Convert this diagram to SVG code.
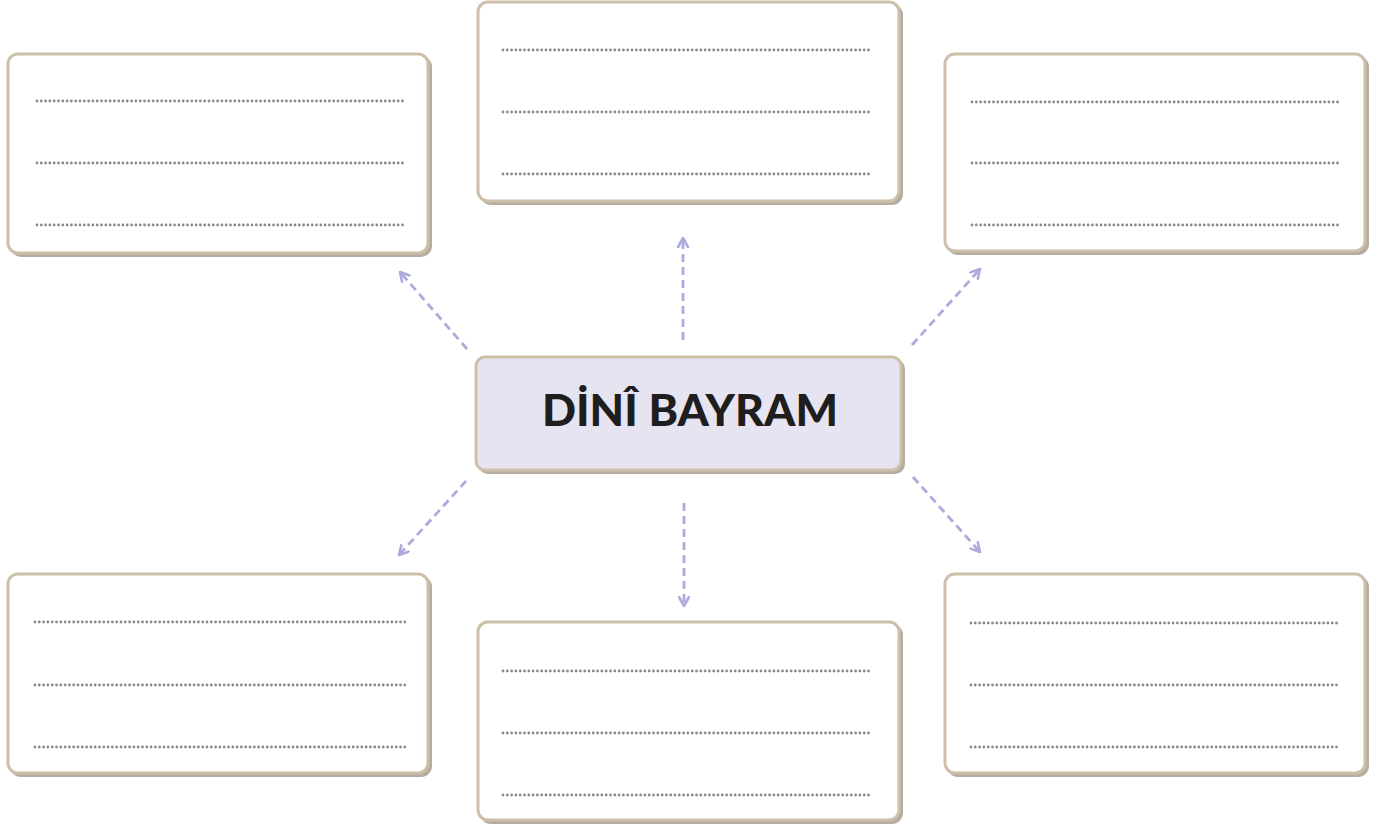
<svg xmlns="http://www.w3.org/2000/svg" width="1383" height="827" viewBox="0 0 1383 827">
<style>
.sh{fill:#a99d90;opacity:0.85}
.bx{fill:#ffffff;stroke:#cdbfa8;stroke-width:3}
.cbx{fill:#e7e4f1;stroke:#cdbfa8;stroke-width:3}
.dl{stroke:#8a8a8a;stroke-width:2.8;stroke-linecap:round;stroke-dasharray:0 4.3;fill:none}
.ar{stroke:#adabdc;stroke-width:2.8;stroke-dasharray:8 5;fill:none;marker-end:url(#ah)}
.t{font-family:Lato,'DejaVu Sans',sans-serif;font-weight:900;font-size:44px;fill:#1e1e1e}
</style>
<defs>
<marker id="ah" viewBox="0 0 12 12" refX="10" refY="6" markerWidth="12" markerHeight="12" markerUnits="userSpaceOnUse" orient="auto">
<path d="M1,1 L10,6 L1,11" fill="none" stroke="#adabdc" stroke-width="2.6" stroke-linecap="round" stroke-linejoin="round"/>
</marker>
</defs>
<rect width="1383" height="827" fill="#ffffff"/>
<g id="connectors">
<line class="ar" x1="467" y1="349" x2="400" y2="272"/>
<line class="ar" x1="683" y1="340" x2="683" y2="238"/>
<line class="ar" x1="912" y1="345" x2="980" y2="269"/>
<line class="ar" x1="466" y1="481" x2="399" y2="555"/>
<line class="ar" x1="684" y1="503" x2="684" y2="606"/>
<line class="ar" x1="913" y1="477" x2="980" y2="552"/>
</g>
<g id="center">
<rect class="sh" x="478" y="359" width="427" height="115" rx="10"/>
<rect class="cbx" x="476" y="357" width="425" height="113" rx="9"/>
<text class="t" x="690" y="426" text-anchor="middle" textLength="296" lengthAdjust="spacingAndGlyphs">DİNÎ BAYRAM</text>
</g>
<g id="box-top-left">
<rect class="sh" x="10" y="56" width="422" height="201" rx="11"/>
<rect class="bx" x="8" y="54" width="420" height="199" rx="10"/>
<line class="dl" x1="37" y1="101" x2="406" y2="101"/>
<line class="dl" x1="37" y1="163" x2="406" y2="163"/>
<line class="dl" x1="37" y1="225" x2="406" y2="225"/>
</g>
<g id="box-top-middle">
<rect class="sh" x="480" y="4" width="423" height="201" rx="11"/>
<rect class="bx" x="478" y="2" width="421" height="199" rx="10"/>
<line class="dl" x1="503" y1="50" x2="871" y2="50"/>
<line class="dl" x1="503" y1="112" x2="871" y2="112"/>
<line class="dl" x1="503" y1="174" x2="871" y2="174"/>
</g>
<g id="box-top-right">
<rect class="sh" x="947" y="56" width="422" height="199" rx="11"/>
<rect class="bx" x="945" y="54" width="420" height="197" rx="10"/>
<line class="dl" x1="972" y1="102" x2="1341" y2="102"/>
<line class="dl" x1="972" y1="163" x2="1341" y2="163"/>
<line class="dl" x1="972" y1="225" x2="1341" y2="225"/>
</g>
<g id="box-bottom-left">
<rect class="sh" x="10" y="576" width="422" height="201" rx="11"/>
<rect class="bx" x="8" y="574" width="420" height="199" rx="10"/>
<line class="dl" x1="35" y1="622" x2="405" y2="622"/>
<line class="dl" x1="35" y1="685" x2="405" y2="685"/>
<line class="dl" x1="35" y1="747" x2="405" y2="747"/>
</g>
<g id="box-bottom-middle">
<rect class="sh" x="480" y="624" width="423" height="200" rx="11"/>
<rect class="bx" x="478" y="622" width="421" height="198" rx="10"/>
<line class="dl" x1="503" y1="671" x2="871" y2="671"/>
<line class="dl" x1="503" y1="733" x2="871" y2="733"/>
<line class="dl" x1="503" y1="795" x2="871" y2="795"/>
</g>
<g id="box-bottom-right">
<rect class="sh" x="947" y="576" width="422" height="201" rx="11"/>
<rect class="bx" x="945" y="574" width="420" height="199" rx="10"/>
<line class="dl" x1="971" y1="623" x2="1340" y2="623"/>
<line class="dl" x1="971" y1="685" x2="1340" y2="685"/>
<line class="dl" x1="971" y1="747" x2="1340" y2="747"/>
</g>
</svg>
